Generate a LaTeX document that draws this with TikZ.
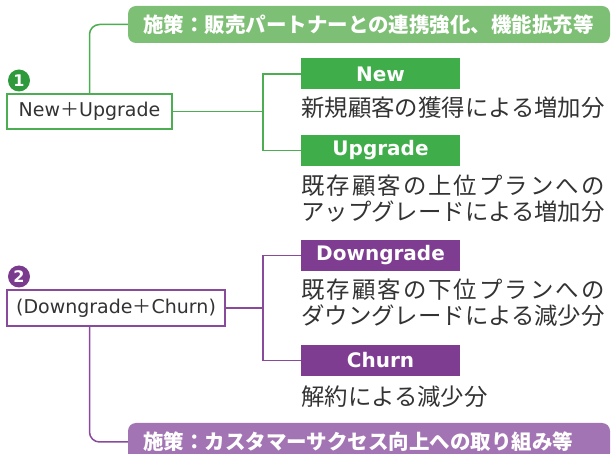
\documentclass[tikz,border=0pt]{standalone}
\usepackage{fontspec}
\setmainfont{DejaVu Sans}
\newfontfamily\jp{Noto Sans CJK JP}
\definecolor{gline}{HTML}{4DAD52}
\definecolor{gbar}{HTML}{3FAD4A}
\definecolor{gban}{HTML}{7DBF74}
\definecolor{gnum}{HTML}{2F9A3B}
\definecolor{pline}{HTML}{8A4A9C}
\definecolor{pbar}{HTML}{7E3D91}
\definecolor{pban}{HTML}{A274B3}
\definecolor{pnum}{HTML}{7A3A8E}
\definecolor{txt}{HTML}{333333}
\newcommand\wline[1]{\makebox[303.5pt][s]{#1}}
\begin{document}
\begin{tikzpicture}[x=1pt,y=-1pt,
  banner/.style={rectangle, rounded corners=8pt, minimum width=482pt, minimum height=37pt,
    inner xsep=15pt, inner ysep=0pt, text width=452pt, align=left,
    font=\jp\bfseries\fontsize{20.5}{24}\selectfont, text=white},
  sumbox/.style={rectangle, draw, line width=2pt, fill=white, minimum height=35pt,
    inner xsep=8pt, inner ysep=0pt, font=\fontsize{19}{22}\selectfont, text=txt},
  bar/.style={rectangle, minimum width=159pt, minimum height=31pt, inner sep=0pt,
    font=\bfseries\fontsize{20}{24}\selectfont, text=white},
  desc/.style={anchor=west, inner sep=0pt, align=left,
    font=\jp\fontsize{23.4}{26}\selectfont, text=txt},
  num/.style={circle, minimum size=22pt, inner sep=0pt,
    font=\bfseries\fontsize{16}{16}\selectfont, text=white},
  conn/.style={line width=1.5pt}
]
\useasboundingbox (0,0) rectangle (611,454);
\clip (0,0) rectangle (611,454);

% ---- section 1 (green) ----
\node[banner, fill=gban] (ban1) at (369,24.5) {施策：販売パートナーとの連携強化、機能拡充等};
\node[num, fill=gnum] (n1) at (19,80.5) {1};
\node[sumbox, draw=gline, minimum width=165pt] (nu) at (89.5,111.5) {New{\jp ＋}Upgrade};
\node[bar, fill=gbar] (new) at (380.5,74) {New};
\node[bar, fill=gbar] (up) at (380.5,150.5) {Upgrade};
\node[desc] (dnew) at (301,108) {新規顧客の獲得による増加分};
\node[desc] (dup) at (301,199) {\wline{既\hfill 存\hfill 顧\hfill 客\hfill の\hfill 上\hfill 位\hfill プ\hfill ラ\hfill ン\hfill へ\hfill の}\\アップグレードによる増加分};
\coordinate (j1) at (263,111.5);

\draw[conn, draw=gline, rounded corners=10pt] (nu.north) |- (ban1.west);
\draw[conn, draw=gline] (nu.east) -- (j1);
\draw[conn, draw=gline] (new.west) -| (j1) |- (up.west);

% ---- section 2 (purple) ----
\node[num, fill=pnum] (n2) at (19,276.5) {2};
\node[sumbox, draw=pline, minimum width=218pt, minimum height=36pt] (dc) at (116,308) {(Downgrade{\jp ＋}Churn)};
\node[bar, fill=pbar] (down) at (380.5,255.5) {Downgrade};
\node[bar, fill=pbar] (churn) at (380.5,360.5) {Churn};
\node[desc] (ddown) at (301,302.5) {\wline{既\hfill 存\hfill 顧\hfill 客\hfill の\hfill 下\hfill 位\hfill プ\hfill ラ\hfill ン\hfill へ\hfill の}\\ダウングレードによる減少分};
\node[desc] (dchurn) at (301,397) {解約による減少分};
\node[banner, fill=pban, minimum height=38pt] (ban2) at (369,442) {施策：カスタマーサクセス向上への取り組み等};
\coordinate (j2) at (263,308);

\draw[conn, draw=pline, rounded corners=10pt] (dc.south -| nu.north) |- (ban2.west);
\draw[conn, draw=pline] (dc.east) -- (j2);
\draw[conn, draw=pline] (down.west) -| (j2) |- (churn.west);
\end{tikzpicture}
\end{document}
